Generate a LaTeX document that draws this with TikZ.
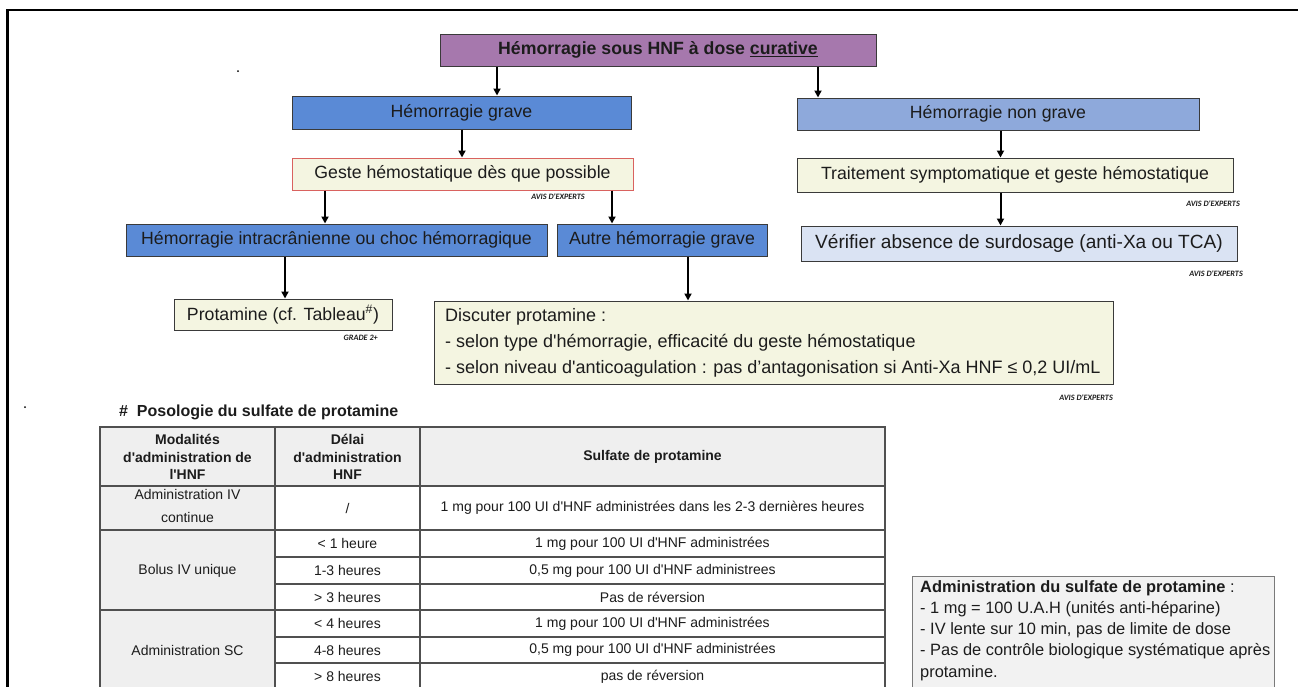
\documentclass[tikz,border=0pt]{standalone}
\usepackage{fontspec}
\setmainfont{Liberation Sans}
\newfontfamily\avisfont{Carlito}
\usetikzlibrary{arrows.meta}
\definecolor{purp}{HTML}{A678AD}
\definecolor{blueA}{HTML}{5A8AD6}
\definecolor{blueB}{HTML}{8EA9DB}
\definecolor{blueC}{HTML}{DAE3F3}
\definecolor{yell}{HTML}{F4F5E1}
\definecolor{redb}{HTML}{D9625F}
\definecolor{boxline}{HTML}{3A3A3A}
\definecolor{txt}{HTML}{1C1C1C}
\definecolor{hdr}{HTML}{EFEFEF}
\definecolor{tline}{HTML}{505050}
\definecolor{admfill}{HTML}{F2F2F2}
\definecolor{admline}{HTML}{7A7A7A}
\newcommand{\sqt}{\textquotesingle}
\begin{document}
\begin{tikzpicture}[x=1pt,y=-1pt,
  box/.style={draw=boxline, line width=1pt, inner sep=0pt, text=txt,
    font=\fontsize{17.7}{21}\selectfont},
  arr/.style={line width=2pt, -{Triangle[length=7pt,width=7pt]}},
  avis/.style={anchor=east, inner sep=0pt, text=txt,
    font=\avisfont\bfseries\itshape\fontsize{8.2}{9}\selectfont},
  cell/.style={inner sep=0pt, text=txt, align=center,
    font=\fontsize{14}{17}\selectfont},
  hcell/.style={cell, font=\bfseries\fontsize{14}{17.5}\selectfont},
  grid/.style={draw=tline, line width=1.3pt}]
\clip (0,0) rectangle (1298,686);
\fill[white] (0,0) rectangle (1298,686);
% frame
\draw[line width=2.7pt] (7.5,700) -- (7.5,10) -- (1310,10);
\fill (238,71) circle (1);
\fill (25,407) circle (1);
% flowchart nodes
\node[box, fill=purp, minimum width=436pt, minimum height=32pt] (top) at (658,50)
  {\textbf{Hémorragie sous HNF à dose \underline{curative}}};
\node[box, fill=blueA, minimum width=339pt, minimum height=33pt] (grave) at (461.5,112.5) {Hémorragie grave};
\node[box, fill=blueB, minimum width=402pt, minimum height=32pt] (nongrave) at (998,114) {Hémorragie non grave};
\node[box, draw=redb, fill=yell, minimum width=341pt, minimum height=32pt] (geste) at (462.5,174) {Geste hémostatique dès que possible};
\node[box, fill=yell, minimum width=436pt, minimum height=34pt] (trait) at (1015,175) {Traitement symptomatique et geste hémostatique};
\node[box, fill=blueC, minimum width=436pt, minimum height=35pt, font=\fontsize{19.1}{22}\selectfont] (verif) at (1019,243.5) {Vérifier absence de surdosage (anti-Xa ou TCA)};
\node[box, fill=blueA, minimum width=421pt, minimum height=32pt] (intra) at (336.5,240) {Hémorragie intracrânienne ou choc hémorragique};
\node[box, fill=blueA, minimum width=210pt, minimum height=32pt] (autre) at (662,240) {Autre hémorragie grave};
\node[box, fill=yell, minimum width=218pt, minimum height=31pt] (prot) at (283,314.5) {Protamine (cf. Tableau\textsuperscript{\#})};
\node[box, fill=yell, minimum width=679pt, minimum height=83pt] (disc) at (773.5,342.5) {};
\node[anchor=west, inner sep=0pt, text=txt, align=left,
  font=\fontsize{18}{26}\selectfont] (disctxt) at (445,343)
  {Discuter protamine :\\
   - selon type d\sqt hémorragie, efficacité du geste hémostatique\\
   - selon niveau d\sqt anticoagulation : pas d’antagonisation si Anti-Xa HNF ≤ 0,2 UI/mL};
% grade labels
\node[avis] (av1) at (585,197) {AVIS D\sqt EXPERTS};
\node[avis] (av2) at (1240,204) {AVIS D\sqt EXPERTS};
\node[avis] (av3) at (1243,274) {AVIS D\sqt EXPERTS};
\node[avis] (av4) at (1113,398) {AVIS D\sqt EXPERTS};
\node[avis] (gr1) at (378,338) {GRADE 2+};
% arrows
\coordinate (x1) at (497,0);
\coordinate (x2) at (818,0);
\coordinate (x3) at (462,0);
\coordinate (x4) at (1000.5,0);
\coordinate (x5) at (325,0);
\coordinate (x6) at (612,0);
\coordinate (x7) at (285,0);
\coordinate (x8) at (688,0);
\draw[arr] (top.south -| x1) -- (grave.north -| x1);
\draw[arr] (top.south -| x2) -- (nongrave.north -| x2);
\draw[arr] (grave.south -| x3) -- (geste.north -| x3);
\draw[arr] (nongrave.south -| x4) -- (trait.north -| x4);
\draw[arr] (trait.south -| x4) -- (verif.north -| x4);
\draw[arr] (geste.south -| x5) -- (intra.north -| x5);
\draw[arr] (geste.south -| x6) -- (autre.north -| x6);
\draw[arr] (intra.south -| x7) -- (prot.north -| x7);
\draw[arr] (autre.south -| x8) -- (disc.north -| x8);
% table
\node[anchor=west, inner sep=0pt, text=txt, font=\bfseries\fontsize{16}{18}\selectfont] (ttl) at (119,412)
  {\#\ \ Posologie du sulfate de protamine};
\fill[hdr] (100,427) rectangle (885,486);
\fill[hdr] (100,486) rectangle (275,700);
\draw[grid] (100,700) -- (100,427) -- (885,427) -- (885,700);
\draw[grid] (275,427) -- (275,700);
\draw[grid] (420,427) -- (420,700);
\draw[grid] (100,486) -- (885,486);
\draw[grid] (100,530) -- (885,530);
\draw[grid] (100,610) -- (885,610);
\draw[grid] (275,557) -- (885,557);
\draw[grid] (275,584) -- (885,584);
\draw[grid] (275,637) -- (885,637);
\draw[grid] (275,663) -- (885,663);
\node[hcell] (h1) at (187.5,457) {Modalités\\d\sqt administration de\\l\sqt HNF};
\node[hcell] (h2) at (347.5,457) {Délai\\d\sqt administration\\HNF};
\node[hcell] (h3) at (652.5,457) {Sulfate de protamine};
\node[cell, font=\fontsize{14}{23}\selectfont] (c11) at (187.5,506) {Administration IV\\continue};
\node[cell] (c12) at (347.5,508) {/};
\node[cell] (c13) at (652.5,508) {1 mg pour 100 UI d\sqt HNF administrées dans les 2-3 dernières heures};
\node[cell] (c21) at (187.5,570.5) {Bolus IV unique};
\node[cell] (c22) at (347.5,543.5) {< 1 heure};
\node[cell] (c23) at (652.5,543.5) {1 mg pour 100 UI d\sqt HNF administrées};
\node[cell] (c32) at (347.5,570.5) {1-3 heures};
\node[cell] (c33) at (652.5,570.5) {0,5 mg pour 100 UI d\sqt HNF administrees};
\node[cell] (c42) at (347.5,597) {> 3 heures};
\node[cell] (c43) at (652.5,597) {Pas de réversion};
\node[cell] (c51) at (187.5,650) {Administration SC};
\node[cell] (c52) at (347.5,623.5) {< 4 heures};
\node[cell] (c53) at (652.5,623.5) {1 mg pour 100 UI d\sqt HNF administrées};
\node[cell] (c62) at (347.5,650) {4-8 heures};
\node[cell] (c63) at (652.5,650) {0,5 mg pour 100 UI d\sqt HNF administrées};
\node[cell] (c72) at (347.5,676.5) {> 8 heures};
\node[cell] (c73) at (652.5,676.5) {pas de réversion};
% administration box
\node[draw=admline, fill=admfill, line width=1pt, anchor=north west, minimum width=362pt, minimum height=140pt, inner sep=0pt] (adm) at (912,576) {};
\node[anchor=north west, inner sep=0pt, text=txt, align=left,
  font=\fontsize{16.4}{21.3}\selectfont] (admtxt) at (920,580)
  {\textbf{Administration du sulfate de protamine} :\\
   - 1 mg = 100 U.A.H (unités anti-héparine)\\
   - IV lente sur 10 min, pas de limite de dose\\
   - Pas de contrôle biologique systématique après\\
   protamine.};
\end{tikzpicture}
\end{document}
